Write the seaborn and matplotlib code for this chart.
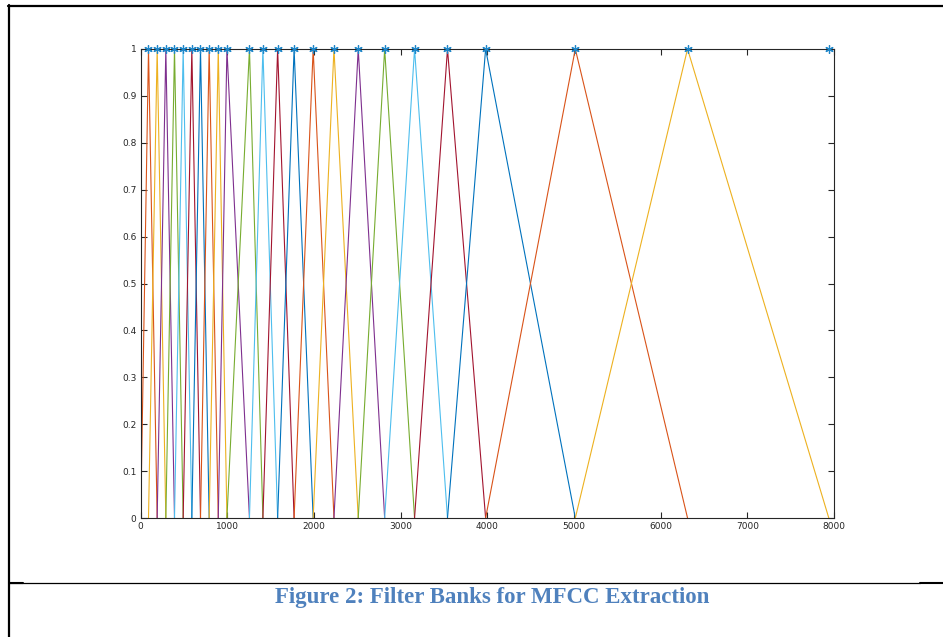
import numpy as np
import pandas as pd
import matplotlib
matplotlib.use("Agg")
import matplotlib.pyplot as plt
from matplotlib.lines import Line2D
import seaborn as sns

# Filter bank edge frequencies (Hz)
edges = [0, 90, 190, 290, 390, 490, 590, 690, 790, 895, 995, 1255, 1410,
         1580, 1770, 1990, 2230, 2510, 2815, 3160, 3540, 3980, 5015, 6310, 7940]
peak_level = [1.0]
x_ticks = [0, 1000, 2000, 3000, 4000, 5000, 6000, 7000, 8000]
y_ticks = [0, 0.1, 0.2, 0.3, 0.4, 0.5, 0.6, 0.7, 0.8, 0.9, 1]
y_tick_labels = ["0", "0.1", "0.2", "0.3", "0.4", "0.5", "0.6", "0.7", "0.8", "0.9", "1"]
caption = "Figure 2: Filter Banks for MFCC Extraction"

matlab_colors = ["#0072BD", "#D95319", "#EDB120", "#7E2F8E",
                 "#77AC30", "#4DBEEE", "#A2142F"]

sns.set_theme(style="ticks")
plt.rcParams["font.family"] = ["DejaVu Sans"]

rows = []
n_filters = len(edges) - 2
for i in range(n_filters):
    rows.append({"filter": i, "order": 0, "f": edges[i], "amp": 0.0})
    rows.append({"filter": i, "order": 1, "f": edges[i + 1], "amp": peak_level[0]})
    rows.append({"filter": i, "order": 2, "f": edges[i + 2], "amp": 0.0})
df = pd.DataFrame(rows)
palette = {i: matlab_colors[(i + 1) % len(matlab_colors)] for i in range(n_filters)}

stars = pd.DataFrame({"f": edges[1:], "amp": peak_level * (len(edges) - 1)})

fig = plt.figure(figsize=(9.43, 6.37), dpi=100)
ax = fig.add_axes([140.7 / 943, 1 - 518 / 637, (834 - 140.7) / 943, (518 - 49) / 637])

sns.lineplot(data=df, x="f", y="amp", hue="filter", palette=palette,
             units="filter", estimator=None, sort=False, legend=False,
             linewidth=0.8, ax=ax)
ax.plot(stars["f"], stars["amp"], linestyle="none", marker=(6, 2, 0),
        markersize=6, markeredgewidth=0.9, color="#1F86C8",
        clip_on=False, zorder=5)

ax.set_xlim(0, 8000)
ax.set_ylim(0, 1)
ax.set_xticks(x_ticks)
ax.set_xticklabels([str(t) for t in x_ticks])
ax.set_yticks(y_ticks)
ax.set_yticklabels(y_tick_labels)
ax.set_xlabel("")
ax.set_ylabel("")
for s in ax.spines.values():
    s.set_visible(True)
    s.set_color("#262626")
    s.set_linewidth(0.8)
ax.tick_params(direction="in", length=4, width=0.8, colors="#262626",
               labelsize=6.5, top=True, right=True, labelcolor="#262626", pad=3)

# document frame lines
def hline(y, x0, x1, lw):
    fig.add_artist(Line2D([x0 / 943, x1 / 943], [1 - y / 637, 1 - y / 637],
                          color="black", linewidth=lw, transform=fig.transFigure))

def vline(x, y0, y1, lw):
    fig.add_artist(Line2D([x / 943, x / 943], [1 - y0 / 637, 1 - y1 / 637],
                          color="black", linewidth=lw, transform=fig.transFigure))

hline(5.5, 8, 943, 1.6)
vline(9, 4.7, 637, 1.6)
hline(583, 9, 920, 0.9)
hline(582.5, 9, 23, 1.5)
hline(582.5, 920, 943, 1.5)

fig.text(492 / 943, 1 - 598 / 637, caption, ha="center", va="center",
         fontsize=16.5, fontweight="bold", color="#4F81BD",
         family=["Liberation Serif", "DejaVu Serif"])

fig.savefig("out.png", dpi=100)
